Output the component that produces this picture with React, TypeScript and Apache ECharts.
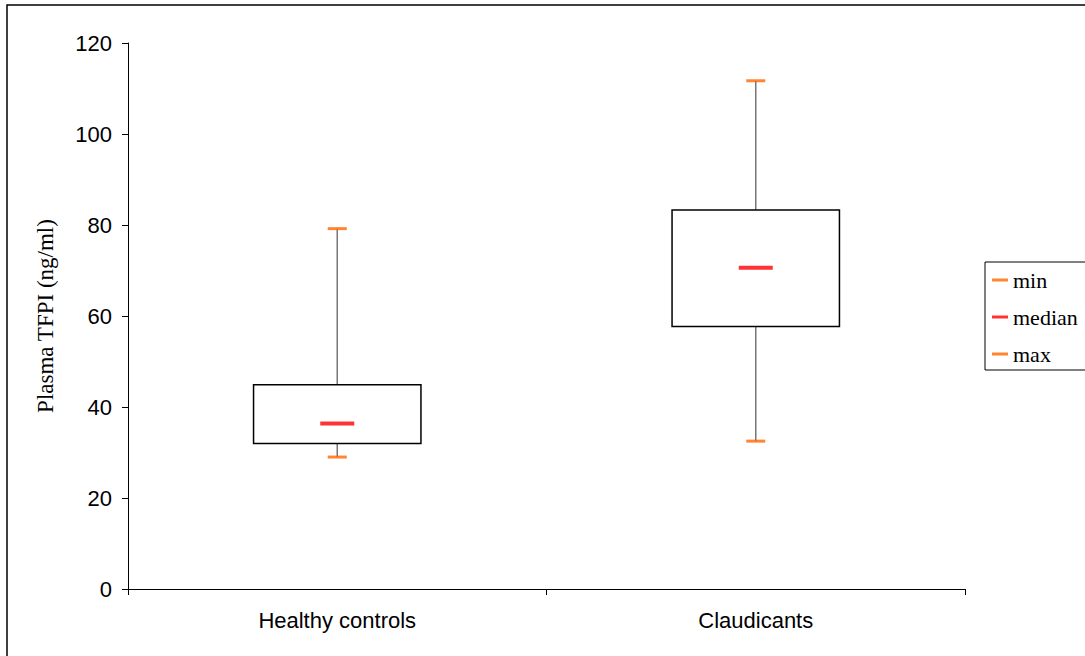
import React, { useEffect, useRef } from "react";
import * as echarts from "echarts";

const categories = ["Healthy controls", "Claudicants"];
const minValues = [29.0, 32.5];
const q1Values = [32.0, 57.7];
const medianValues = [36.4, 70.6];
const q3Values = [44.9, 83.3];
const maxValues = [79.2, 111.7];
const yTicks = { min: 0, max: 120, interval: 20 };

export default function App() {
  const ref = useRef<HTMLDivElement>(null);
  useEffect(() => {
    const chart = echarts.init(ref.current!, null, { renderer: "svg" });
    const boxData = categories.map((c, i) => [i, minValues[i], q1Values[i], q3Values[i], maxValues[i]]);
    const serif = "Liberation Serif, Times New Roman, serif";
    const sans = "Liberation Sans, Arial, sans-serif";
    const option: any = {
      animation: false,
      backgroundColor: "#ffffff",
      grid: { left: 128, right: 120, top: 43, bottom: 67 },
      legend: {
        orient: "vertical",
        left: 987,
        top: 264,
        itemWidth: 16,
        itemHeight: 3,
        itemGap: 15,
        icon: "rect",
        textStyle: { fontFamily: serif, fontSize: 22, color: "#000" },
        data: ["min", "median", "max"],
      },
      xAxis: {
        type: "category",
        data: categories,
        boundaryGap: true,
        axisLine: { lineStyle: { color: "#000", width: 1 } },
        axisTick: { show: true, length: 6, lineStyle: { color: "#000" } },
        axisLabel: { color: "#000", fontFamily: sans, fontSize: 22, margin: 20 },
      },
      yAxis: {
        type: "value",
        min: yTicks.min,
        max: yTicks.max,
        interval: yTicks.interval,
        name: "Plasma TFPI (ng/ml)",
        nameLocation: "middle",
        nameGap: 71,
        nameTextStyle: { fontFamily: serif, fontSize: 23, color: "#000" },
        axisLine: { show: true, lineStyle: { color: "#000", width: 1 } },
        axisTick: { show: true, length: 6, lineStyle: { color: "#000" } },
        axisLabel: { color: "#000", fontFamily: sans, fontSize: 22, margin: 16 },
        splitLine: { show: false },
      },
      graphic: [
        {
          type: "rect",
          shape: { x: 7, y: 5, width: 1200, height: 800 },
          style: { fill: "none", stroke: "#000", lineWidth: 1.5 },
          silent: true,
        },
        {
          type: "rect",
          shape: { x: 985, y: 262, width: 200, height: 108 },
          style: { fill: "#fff", stroke: "#000", lineWidth: 1 },
          z: -1,
          silent: true,
        },
      ],
      series: [
        {
          type: "custom",
          name: "box",
          data: boxData,
          z: 1,
          renderItem: (params: any, api: any) => {
            const x = api.value(0);
            const lo = api.coord([x, api.value(1)]);
            const q1 = api.coord([x, api.value(2)]);
            const q3 = api.coord([x, api.value(3)]);
            const hi = api.coord([x, api.value(4)]);
            const w = api.size([1, 0])[0] * 0.4;
            return {
              type: "group",
              children: [
                { type: "line", shape: { x1: lo[0], y1: lo[1], x2: q1[0], y2: q1[1] }, style: { stroke: "#777", lineWidth: 1.5 } },
                { type: "line", shape: { x1: q3[0], y1: q3[1], x2: hi[0], y2: hi[1] }, style: { stroke: "#777", lineWidth: 1.5 } },
                { type: "rect", shape: { x: q1[0] - w / 2, y: q3[1], width: w, height: q1[1] - q3[1] }, style: { fill: "#fff", stroke: "#000", lineWidth: 1.5 } },
              ],
            };
          },
        },
        {
          type: "scatter",
          name: "min",
          symbol: "rect",
          symbolSize: [19, 3],
          itemStyle: { color: "#FF6600" },
          z: 3,
          data: minValues.map((v, i) => [i, v]),
        },
        {
          type: "scatter",
          name: "median",
          symbol: "rect",
          symbolSize: [34, 4],
          itemStyle: { color: "#FF0000" },
          z: 3,
          data: medianValues.map((v, i) => [i, v]),
        },
        {
          type: "scatter",
          name: "max",
          symbol: "rect",
          symbolSize: [19, 3],
          itemStyle: { color: "#FF6600" },
          z: 3,
          data: maxValues.map((v, i) => [i, v]),
        },
      ],
    };
    chart.setOption(option);
    return () => chart.dispose();
  }, []);
  return <div ref={ref} style={{ position: "fixed", left: 0, top: 0, width: 1085, height: 656 }} />;
}
